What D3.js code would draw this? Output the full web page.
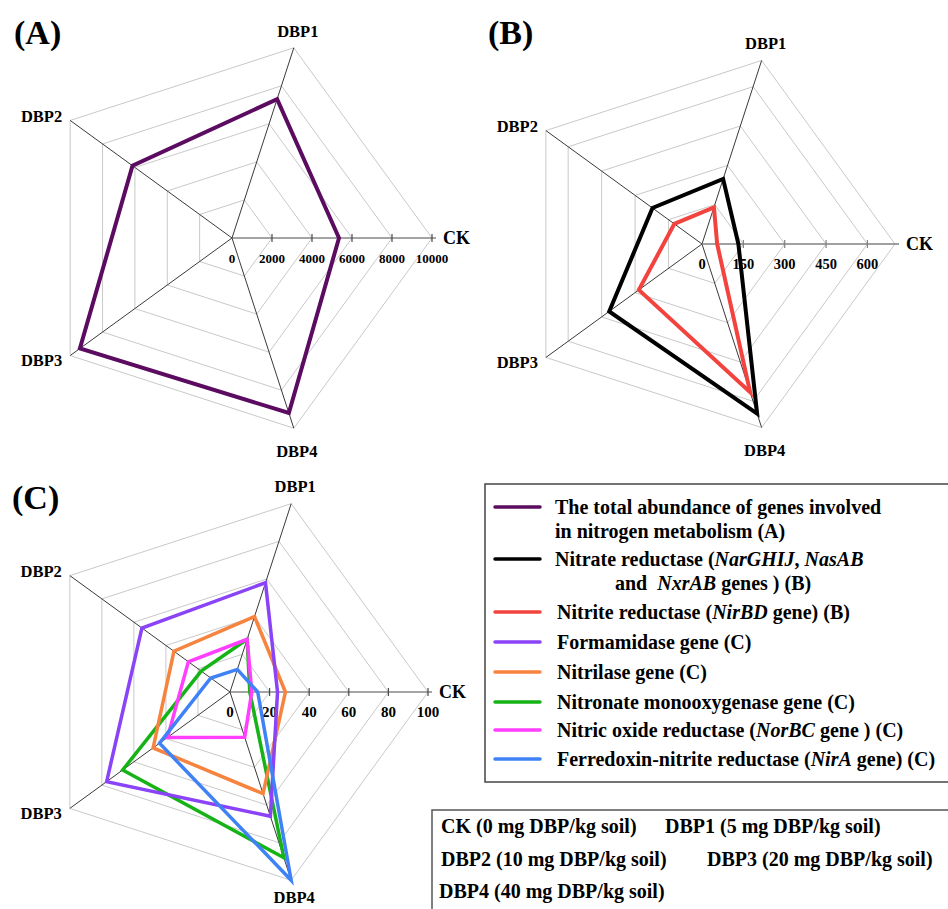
<!DOCTYPE html>
<html>
<head>
<meta charset="utf-8">
<script src="https://cdn.jsdelivr.net/npm/d3@7"></script>
<style>
  body { margin: 0; background: #fff; }
  svg text { font-family: "Liberation Serif", "Times New Roman", serif; font-weight: bold; fill: #000; }
</style>
</head>
<body>
<svg id="chart" width="948" height="909"></svg>
<script>
// axes of every radar
const categories = ["CK", "DBP1", "DBP2", "DBP3", "DBP4"];

// (A) total abundance
const totalAbundance = [5350, 7300, 6150, 9400, 9200];
const ticksA = [0, 2000, 4000, 6000, 8000, 10000];
const ringsA = [2000, 4000, 6000, 8000, 10000];

// (B)
const nitrateReductase = [132, 248, 222, 416, 647];
const nitriteReductase = [55, 140, 124, 283, 565];
const ticksB = [0, 150, 300, 450, 600];
const ringsB = [150, 300, 450, 600, 700];

// (C)
const formamidase = [24, 58, 55, 77, 66];
const nitrilase = [28, 40, 35, 48, 54];
const nitronate = [10, 28, 18, 67, 88];
const nitricOxide = [11, 28, 26, 39, 24];
const ferredoxin = [14, 12, 12, 44, 100];
const ticksC = [0, 20, 40, 60, 80, 100];
const ringsC = [20, 40, 60, 80, 100];

const treatments = [
  "CK (0 mg DBP/kg soil)", "DBP1 (5 mg DBP/kg soil)",
  "DBP2 (10 mg DBP/kg soil)", "DBP3 (20 mg DBP/kg soil)",
  "DBP4 (40 mg DBP/kg soil)"
];

const colors = {
  total: "#5c0c60", nitrate: "#000000", nitrite: "#f2433f",
  formamidase: "#8a43f6", nitrilase: "#f7843e", nitronate: "#16b316",
  nitricOxide: "#ff3eff", ferredoxin: "#3f82f6"
};

const svg = d3.select("#chart");

// angle used by d3.lineRadial: clockwise from 12 o'clock, CK points right
const angle = i => Math.PI / 2 - i * 2 * Math.PI / 5;

function drawRadar(o) {
  const g = svg.append("g").attr("transform", `translate(${o.cx},${o.cy})`);
  const r = d3.scaleLinear().domain([0, o.max]).range([0, o.radius]);
  const pt = (i, v) => [r(v) * Math.sin(angle(i)), -r(v) * Math.cos(angle(i))];

  const ring = d3.lineRadial()
    .angle((d, i) => angle(i))
    .radius(d => r(d))
    .curve(d3.curveLinearClosed);

  // grid rings
  g.selectAll(".ring").data(o.rings).join("path")
    .attr("d", v => ring(categories.map(() => v)))
    .attr("fill", "none").attr("stroke", "#c9c9c9").attr("stroke-width", 1);

  // spokes (not CK)
  g.selectAll(".spoke").data(categories.slice(1)).join("line")
    .attr("x1", 0).attr("y1", 0)
    .attr("x2", (d, i) => pt(i + 1, o.max)[0])
    .attr("y2", (d, i) => pt(i + 1, o.max)[1])
    .attr("stroke", "#3a3a3a").attr("stroke-width", 1);

  // CK axis with ticks
  g.append("line")
    .attr("x1", 0).attr("y1", 0).attr("x2", r(o.max) + 4).attr("y2", 0)
    .attr("stroke", o.axisColor).attr("stroke-width", o.axisWidth);
  g.selectAll(".tick").data(o.ticks.slice(1)).join("line")
    .attr("x1", d => r(d)).attr("x2", d => r(d))
    .attr("y1", -4).attr("y2", 4)
    .attr("stroke", o.axisColor).attr("stroke-width", 1.2);
  g.selectAll(".tlab").data(o.ticks).join("text")
    .attr("x", d => r(d)).attr("y", 20)
    .attr("dy", "0.35em").attr("text-anchor", "middle")
    .style("font-size", o.tickSize + "px")
    .text(d => d);

  // series
  g.selectAll(".series").data(o.series).join("path")
    .attr("d", s => ring(s.values))
    .attr("fill", "none").attr("stroke", s => s.color)
    .attr("stroke-width", o.lineWidth).attr("stroke-linejoin", "miter");

  // category labels
  const labelPos = [
    { dx: 11, dy: 0, anchor: "start" },
    { dx: 4, dy: -17, anchor: "middle" },
    { dx: -8, dy: -4, anchor: "end" },
    { dx: -8, dy: 5, anchor: "end" },
    { dx: 3, dy: o.bottomLabelDy || 23, anchor: "middle" }
  ];
  g.selectAll(".clab").data(categories).join("text")
    .attr("x", (d, i) => pt(i, o.max)[0] + labelPos[i].dx)
    .attr("y", (d, i) => pt(i, o.max)[1] + labelPos[i].dy)
    .attr("dy", "0.35em").attr("text-anchor", (d, i) => labelPos[i].anchor)
    .style("font-size", (d, i) => (i === 0 ? 18 : 16.5) + "px")
    .text(d => d);

  svg.append("text").attr("x", o.tagX).attr("y", o.tagY)
    .style("font-size", "34px").text(o.tag);
}

drawRadar({
  cx: 232, cy: 238, radius: 200, max: 10000,
  rings: ringsA, ticks: ticksA, tickSize: 13,
  axisColor: "#4a4a4a", axisWidth: 1, lineWidth: 4,
  tag: "(A)", tagX: 14, tagY: 44,
  series: [{ values: totalAbundance, color: colors.total }]
});

drawRadar({
  cx: 702, cy: 244, radius: 193, max: 700,
  rings: ringsB, ticks: ticksB, tickSize: 14.5,
  axisColor: "#808080", axisWidth: 1.5, lineWidth: 4,
  tag: "(B)", tagX: 488, tagY: 44,
  series: [
    { values: nitriteReductase, color: colors.nitrite },
    { values: nitrateReductase, color: colors.nitrate }
  ]
});

drawRadar({
  cx: 230, cy: 692, radius: 198, max: 100,
  rings: ringsC, ticks: ticksC, tickSize: 15,
  axisColor: "#4a4a4a", axisWidth: 1, lineWidth: 3.5,
  tag: "(C)", tagX: 12, tagY: 509,
  bottomLabelDy: 17,
  series: [
    { values: nitronate, color: colors.nitronate },
    { values: nitrilase, color: colors.nitrilase },
    { values: formamidase, color: colors.formamidase },
    { values: nitricOxide, color: colors.nitricOxide },
    { values: ferredoxin, color: colors.ferredoxin }
  ]
});

// legend box
const legend = svg.append("g");
legend.append("rect")
  .attr("x", 485).attr("y", 484).attr("width", 480).attr("height", 298)
  .attr("fill", "none").attr("stroke", "#444").attr("stroke-width", 1.5);

// each row: colour, y, lines of [text, italic?] parts
const legendRows = [
  { color: colors.total, y: 507, lines: [
    { x: 555, parts: [["The total abundance of genes involved", false]] },
    { x: 555, parts: [["in nitrogen metabolism (A)", false]] }] },
  { color: colors.nitrate, y: 559, lines: [
    { x: 555, parts: [["Nitrate reductase (", false], ["NarGHIJ", true], [", ", false], ["NasAB", true]] },
    { x: 615, parts: [["and  ", false], ["NxrAB", true], [" genes ) (B)", false]] }] },
  { color: colors.nitrite, y: 612, lines: [
    { x: 557, parts: [["Nitrite reductase (", false], ["NirBD", true], [" gene) (B)", false]] }] },
  { color: colors.formamidase, y: 642, lines: [
    { x: 557, parts: [["Formamidase gene (C)", false]] }] },
  { color: colors.nitrilase, y: 672, lines: [
    { x: 557, parts: [["Nitrilase gene (C)", false]] }] },
  { color: colors.nitronate, y: 702, lines: [
    { x: 557, parts: [["Nitronate monooxygenase gene (C)", false]] }] },
  { color: colors.nitricOxide, y: 730, lines: [
    { x: 557, parts: [["Nitric oxide reductase (", false], ["NorBC", true], [" gene ) (C)", false]] }] },
  { color: colors.ferredoxin, y: 759, lines: [
    { x: 557, parts: [["Ferredoxin-nitrite reductase (", false], ["NirA", true], [" gene) (C)", false]] }] }
];

legendRows.forEach(row => {
  legend.append("line")
    .attr("x1", 495).attr("x2", 540).attr("y1", row.y).attr("y2", row.y)
    .attr("stroke", row.color).attr("stroke-width", 3.5).attr("stroke-linecap", "round");
  row.lines.forEach((ln, k) => {
    const t = legend.append("text")
      .attr("x", ln.x).attr("y", row.y + k * 24).attr("dy", "0.35em")
      .style("font-size", "20px").attr("xml:space", "preserve");
    ln.parts.forEach(p => {
      t.append("tspan").style("font-style", p[1] ? "italic" : "normal").text(p[0]);
    });
  });
});

// treatment box
const tbox = svg.append("g");
tbox.append("path")
  .attr("d", "M432,915 V810 H950")
  .attr("fill", "none").attr("stroke", "#555").attr("stroke-width", 1.5);
const treatPos = [[441, 826], [665, 826], [441, 859], [707, 859], [439, 891]];
tbox.selectAll("text").data(treatments).join("text")
  .attr("x", (d, i) => treatPos[i][0]).attr("y", (d, i) => treatPos[i][1])
  .attr("dy", "0.35em").style("font-size", "20px")
  .text(d => d);
</script>
</body>
</html>
